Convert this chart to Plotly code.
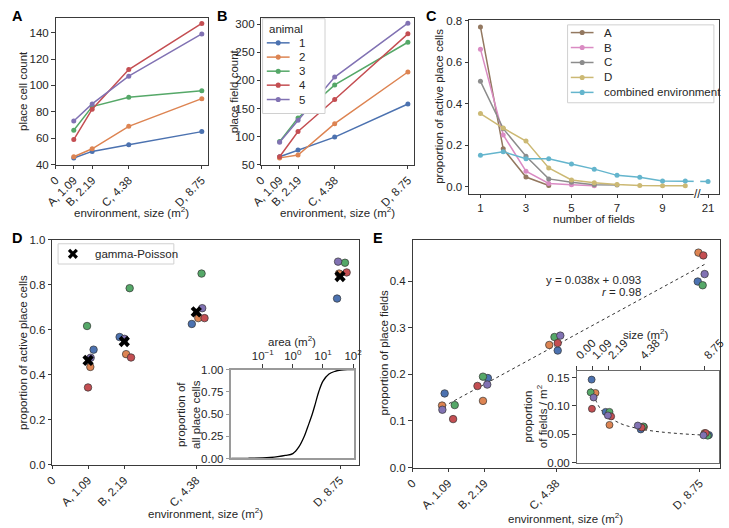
import plotly.graph_objects as go

W, H = 729, 528
FONT = "Liberation Sans, Arial, sans-serif"
TXT = "#262626"

# ---------------- data ----------------
sizes = [1.09, 2.19, 4.38, 8.75]
env_labels = ["A, 1.09", "B, 2.19", "C, 4.38", "D, 8.75"]
animals = ["1", "2", "3", "4", "5"]
animal_colors = ["#4C72B0", "#DD8452", "#55A868", "#C44E52", "#8172B3"]

# panel A: place cell count per animal
cell_count = [
    [45, 50, 55, 65],
    [46, 52, 69, 90],
    [66, 84, 91, 96],
    [59, 82, 112, 147],
    [73, 86, 107, 139],
]
# panel B: place field count per animal
field_count = [
    [64, 76, 99, 158],
    [62, 67, 123, 215],
    [91, 133, 192, 268],
    [64, 109, 166, 283],
    [90, 129, 206, 302],
]

# panel C: distribution of number of fields
c_names = ["A", "B", "C", "D", "combined environment"]
c_colors = ["#937860", "#DA8BC3", "#8C8C8C", "#CCB974", "#64B5CD"]
c_x = [
    [1, 2, 3, 4],
    [1, 2, 3, 4, 5, 6],
    [1, 2, 3, 4, 5, 6, 7],
    [1, 2, 3, 4, 5, 6, 7, 8, 9, 10],
    [1, 2, 3, 4, 5, 6, 7, 8, 9, 10, 11],
]
c_y = [
    [0.770, 0.183, 0.047, 0.006],
    [0.663, 0.250, 0.075, 0.016, 0.010, 0.005],
    [0.508, 0.280, 0.147, 0.038, 0.022, 0.010, 0.009],
    [0.353, 0.283, 0.220, 0.091, 0.033, 0.019, 0.011, 0.006, 0.005, 0.005],
    [0.152, 0.169, 0.135, 0.135, 0.110, 0.085, 0.055, 0.046, 0.028, 0.028, 0.025],
]
c_tickvals = [1, 3, 5, 7, 9, 11]
c_ticktext = ["1", "3", "5", "7", "9", "21"]

# panel D: proportion of active place cells (jittered x, value)
d_x = [
    [1.257, 2.048, 4.243, 8.66],
    [1.158, 2.246, 4.44, 8.72],
    [1.059, 2.354, 4.54, 8.90],
    [1.088, 2.395, 4.63, 8.95],
    [1.168, 2.197, 4.56, 8.69],
]
d_y = [
    [0.511, 0.567, 0.625, 0.738],
    [0.434, 0.491, 0.651, 0.849],
    [0.616, 0.784, 0.849, 0.897],
    [0.343, 0.476, 0.651, 0.854],
    [0.475, 0.559, 0.695, 0.902],
]
gp_y = [0.463, 0.547, 0.679, 0.836]

# panel D inset: proportion of all place cells vs area
inset_area = [0.009, 0.032, 0.1, 0.178, 0.316, 0.562, 1.0, 1.585, 2.40, 3.16,
              4.42, 5.62, 7.24, 10.0, 15.85, 25.1, 39.8, 67.6, 107.0]
inset_prop = [0.0, 0.002, 0.006, 0.011, 0.02, 0.034, 0.055, 0.13, 0.25, 0.36,
              0.50, 0.62, 0.75, 0.87, 0.95, 0.98, 0.995, 1.0, 1.0]

# panel E: proportion of place fields (jittered x, value)
e_x = [
    [0.979, 2.296, 4.424, 8.69],
    [0.90, 2.147, 4.167, 8.711],
    [1.286, 2.147, 4.325, 8.84],
    [1.237, 1.979, 4.424, 8.86],
    [0.91, 2.277, 4.503, 8.90],
]
e_y = [
    [0.159, 0.192, 0.251, 0.399],
    [0.133, 0.143, 0.263, 0.461],
    [0.134, 0.195, 0.280, 0.391],
    [0.104, 0.175, 0.267, 0.455],
    [0.124, 0.178, 0.283, 0.415],
]
fit_x = [0.95, 8.93]
fit_y = [0.131, 0.437]

# panel E inset: fields per m2
ei_x = [
    [1.022, 1.978, 4.378, 9.04],
    [1.289, 2.244, 4.60, 8.733],
    [0.955, 2.244, 4.556, 8.956],
    [1.044, 2.356, 4.44, 8.82],
    [1.156, 2.133, 4.178, 8.667],
]
ei_y = [
    [0.1465, 0.0896, 0.0586, 0.0488],
    [0.123, 0.0666, 0.063, 0.0522],
    [0.124, 0.0896, 0.064, 0.0476],
    [0.095, 0.0816, 0.062, 0.0522],
    [0.115, 0.0833, 0.0655, 0.0483],
]
ei_fit_x = [1.0, 1.5, 2.0, 3.0, 4.0, 5.0, 6.0, 7.0, 8.0, 9.0]
ei_fit_y = [0.131, 0.100, 0.0845, 0.069, 0.0613, 0.0566, 0.0535, 0.0513, 0.0496, 0.0483]

# ---------------- helpers ----------------
def px_x(a, b):
    return [a / W, b / W]

def px_y(top, bottom):
    return [1 - bottom / H, 1 - top / H]

def base_axis(**kw):
    d = dict(showline=True, mirror=True, linecolor="#3a3a3a", linewidth=1,
             ticks="outside", ticklen=3.5, tickwidth=1, tickcolor="#3a3a3a",
             showgrid=False, zeroline=False,
             tickfont=dict(size=11.5, color=TXT, family=FONT))
    d.update(kw)
    return d

fig = go.Figure()

def text(t, x, y, angle=0, size=11.5, xanchor="center", yanchor="middle", color=TXT):
    fig.add_annotation(text=t, xref="paper", yref="paper", x=x / W, y=1 - y / H,
                       showarrow=False, textangle=angle, xanchor=xanchor, yanchor=yanchor,
                       font=dict(size=size, color=color, family=FONT))

env_x_axis = dict(tickvals=[0] + sizes, ticktext=["0"] + env_labels, tickangle=-45)

# panel A
for i, a in enumerate(animals):
    fig.add_trace(go.Scatter(x=sizes, y=cell_count[i], mode="lines+markers",
                             line=dict(color=animal_colors[i], width=1.5),
                             marker=dict(color=animal_colors[i], size=5),
                             xaxis="x", yaxis="y", showlegend=False))
# panel B
for i, a in enumerate(animals):
    fig.add_trace(go.Scatter(x=sizes, y=field_count[i], mode="lines+markers", name=a,
                             line=dict(color=animal_colors[i], width=1.5),
                             marker=dict(color=animal_colors[i], size=5),
                             xaxis="x2", yaxis="y2", showlegend=False))
# panel C
for i, n in enumerate(c_names):
    fig.add_trace(go.Scatter(x=c_x[i], y=c_y[i], mode="lines+markers", name=n,
                             line=dict(color=c_colors[i], width=1.5),
                             marker=dict(color=c_colors[i], size=5),
                             xaxis="x3", yaxis="y3", showlegend=False))
# panel D
for i, a in enumerate(animals):
    fig.add_trace(go.Scatter(x=d_x[i], y=d_y[i], mode="markers",
                             marker=dict(color=animal_colors[i], size=7.5,
                                         line=dict(color="#333333", width=0.7)),
                             xaxis="x4", yaxis="y4", showlegend=False))
fig.add_trace(go.Scatter(x=sizes, y=gp_y, mode="markers", name="gamma-Poisson",
                         marker=dict(symbol="x", color="black", size=10,
                                     line=dict(width=0)),
                         xaxis="x4", yaxis="y4", showlegend=False))
# panel D inset
fig.add_trace(go.Scatter(x=inset_area, y=inset_prop, mode="lines", line_shape="spline",
                         line=dict(color="black", width=1.3),
                         xaxis="x6", yaxis="y6", showlegend=False))
# panel E
fig.add_trace(go.Scatter(x=fit_x, y=fit_y, mode="lines",
                         line=dict(color="#333333", width=1, dash="dot"),
                         xaxis="x5", yaxis="y5", showlegend=False))
for i, a in enumerate(animals):
    fig.add_trace(go.Scatter(x=e_x[i], y=e_y[i], mode="markers",
                             marker=dict(color=animal_colors[i], size=7.5,
                                         line=dict(color="#333333", width=0.7)),
                             xaxis="x5", yaxis="y5", showlegend=False))
# panel E inset
fig.add_trace(go.Scatter(x=ei_fit_x, y=ei_fit_y, mode="lines", line_shape="spline",
                         line=dict(color="#333333", width=1, dash="dot"),
                         xaxis="x7", yaxis="y7", showlegend=False))
for i, a in enumerate(animals):
    fig.add_trace(go.Scatter(x=ei_x[i], y=ei_y[i], mode="markers",
                             marker=dict(color=animal_colors[i], size=7,
                                         line=dict(color="#333333", width=0.7)),
                             xaxis="x7", yaxis="y7", showlegend=False))

fig.update_layout(
    width=W, height=H, margin=dict(l=0, r=0, t=0, b=0),
    paper_bgcolor="white", plot_bgcolor="white", showlegend=False,
    font=dict(family=FONT, color=TXT, size=11.5),
    xaxis=base_axis(domain=px_x(46.7, 203), range=[0, 9.12], anchor="y", **env_x_axis),
    yaxis=base_axis(domain=px_y(12, 162.3), range=[40, 151.3], anchor="x",
                    tickvals=[40, 60, 80, 100, 120, 140]),
    xaxis2=base_axis(domain=px_x(257.7, 414.3), range=[0, 9.12], anchor="y2", **env_x_axis),
    yaxis2=base_axis(domain=px_y(12, 162.3), range=[50, 311.7], anchor="x2",
                     tickvals=[50, 100, 150, 200, 250, 300]),
    xaxis3=base_axis(domain=px_x(470.7, 726.7), range=[0.5, 11.47], anchor="y3",
                     tickvals=c_tickvals, ticktext=c_ticktext),
    yaxis3=base_axis(domain=px_y(14, 192), range=[-0.033, 0.805], anchor="x3",
                     tickvals=[0, 0.2, 0.4, 0.6, 0.8], tickformat=".1f"),
    xaxis4=base_axis(domain=px_x(43.3, 358.3), range=[0, 9.34], anchor="y4", **env_x_axis),
    yaxis4=base_axis(domain=px_y(239, 469.3), range=[0, 1], anchor="x4",
                     tickvals=[0, 0.2, 0.4, 0.6, 0.8, 1.0], tickformat=".1f"),
    xaxis5=base_axis(domain=px_x(412.7, 727.7), range=[0, 9.36], anchor="y5", **env_x_axis),
    yaxis5=base_axis(domain=px_y(239, 472.3), range=[0, 0.489], anchor="x5",
                     tickvals=[0, 0.1, 0.2, 0.3, 0.4], tickformat=".1f"),
    xaxis6=base_axis(domain=px_x(226.7, 352.7), type="log", range=[-2.05, 2.03], anchor="y6",
                     side="top", tickvals=[0.1, 1, 10, 100],
                     ticktext=["10<sup>\u22121</sup>", "10<sup>0</sup>", "10<sup>1</sup>", "10<sup>2</sup>"],
                     linecolor="#9a9a9a", linewidth=1.6, tickcolor="#3a3a3a"),
    yaxis6=base_axis(domain=px_y(372, 463), range=[0, 1], anchor="x6",
                     tickvals=[0, 0.25, 0.5, 0.75, 1.0], tickformat=".2f",
                     linecolor="#9a9a9a", linewidth=1.6, tickcolor="#9a9a9a"),
    xaxis7=base_axis(domain=px_x(581, 726.7), range=[0, 9.71], anchor="y7", side="top",
                     tickvals=[0] + sizes, ticktext=["0.00", "1.09", "2.19", "4.38", "8.75"],
                     tickangle=-45, linecolor="#6a6a6a", linewidth=1.2),
    yaxis7=base_axis(domain=px_y(373.3, 467.3), range=[0, 0.162], anchor="x7",
                     tickvals=[0, 0.05, 0.10, 0.15], tickformat=".2f",
                     linecolor="#6a6a6a", linewidth=1.2),
)

# ---- axis titles ----
env_title = "environment, size (m<sup>2</sup>)"
text(env_title, 125, 210.7)
text(env_title, 336, 210.7)
text("number of fields", 599, 217.7)
text(env_title, 200, 519)
text(env_title, 570, 523.5)
text("place cell count", 13.3, 87, angle=-90)
text("place field count", 230, 87, angle=-90)
text("proportion of active place cells", 440, 103, angle=-90)
text("proportion of active place cells", 13.3, 354, angle=-90)
text("proportion of place fields", 383, 355, angle=-90)
text("area (m<sup>2</sup>)", 289, 343)
text("proportion of<br>all place cells", 182.5, 417.5, angle=-90)
text("size (m<sup>2</sup>)", 651.7, 336)
text("proportion<br>of fields / m<sup>2</sup>", 539, 420, angle=-90)

# ---- custom legends ----
def rect(x0, y0, x1, y1, border="#d0d0d0"):
    fig.add_shape(type="rect", xref="paper", yref="paper", x0=x0 / W, x1=x1 / W,
                  y0=1 - y1 / H, y1=1 - y0 / H, fillcolor="white",
                  line=dict(color=border, width=1), layer="above")

def leg_entry(y, xl0, xl1, xt, color, label, r=2.6):
    fig.add_shape(type="line", xref="paper", yref="paper", x0=xl0 / W, x1=xl1 / W,
                  y0=1 - y / H, y1=1 - y / H, line=dict(color=color, width=1.5), layer="above")
    xc = (xl0 + xl1) / 2
    fig.add_shape(type="circle", xref="paper", yref="paper", x0=(xc - r) / W, x1=(xc + r) / W,
                  y0=1 - (y + r) / H, y1=1 - (y - r) / H, fillcolor=color,
                  line=dict(color=color, width=0), layer="above")
    text(label, xt, y, xanchor="left")

# legend B
rect(259, 13, 323, 110)
text("animal", 283, 23.5)
for i, a in enumerate(animals):
    leg_entry([37.7, 52.3, 66.7, 81, 95.7][i], 263.3, 286.7, 294, animal_colors[i], a)

# legend C
rect(571.7, 19.3, 721.7, 99)
for i, n in enumerate(c_names):
    leg_entry([27.2, 42.5, 57.8, 73.1, 88.4][i], 575, 598.3, 606.7, c_colors[i], n)

# legend D
rect(49.3, 243.3, 168, 264)
for sx in (1, -1):
    fig.add_shape(type="line", xref="paper", yref="paper",
                  x0=(64.5 - 4) / W, x1=(64.5 + 4) / W,
                  y0=1 - (253.6 - 4 * sx) / H, y1=1 - (253.6 + 4 * sx) / H,
                  line=dict(color="black", width=3.2), layer="above")
text("gamma-Poisson", 85, 253.6, xanchor="left")

# axis break on panel C
fig.add_shape(type="rect", xref="paper", yref="paper",
              x0=701 / W, x1=707.7 / W, y0=1 - 195 / H, y1=1 - 174 / H,
              fillcolor="white", line=dict(width=0), layer="above")
text("//", 704.5, 192, size=12)

# equation in E
text("y = 0.038x + 0.093", 649, 280.7, xanchor="right")
text("<i>r</i> = 0.98", 649, 292.7, xanchor="right")

# panel letters
for lab, x, y in [("A", 7.5, 10.5), ("B", 217, 10), ("C", 432, 10), ("D", 7, 237), ("E", 377.5, 237.5)]:
    text("<b>%s</b>" % lab, x, y, size=14.5, color="black")

fig.write_html("out.html", config={"displayModeBar": False},
               post_script="document.body.style.margin='0';document.body.style.overflow='hidden';")
